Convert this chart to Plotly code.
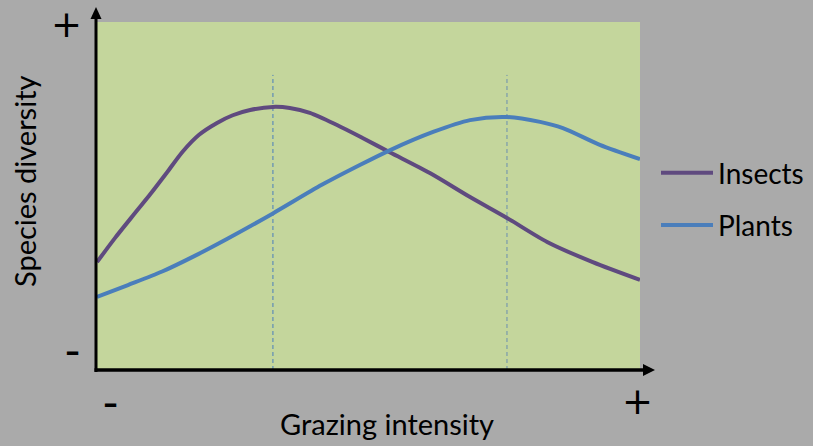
import plotly.graph_objects as go

# ---- data (arbitrary units, 0-100) ----
grazing_insects = [0, 3.3, 7.0, 9.8, 12.9, 15.8, 18.8, 22.1, 25.0, 28.2, 32.4, 35.5, 39.2,
                   44.2, 49.0, 54.0, 61.3, 68.7, 75.5, 82.9, 91.3, 100]
insects = [31.0, 37.9, 45.1, 50.5, 56.8, 62.8, 67.6, 71.0, 73.2, 74.7, 75.6, 75.3, 73.9,
           70.4, 66.6, 62.5, 56.6, 49.7, 43.7, 36.8, 31.0, 25.9]

grazing_plants = [0, 5.7, 12.0, 18.0, 24.1, 32.4, 41.4, 48.4, 54.0, 61.9, 68.7, 75.5,
                  81.6, 85.8, 92.6, 100]
plants = [21.0, 24.4, 28.3, 32.8, 37.8, 45.0, 53.2, 58.9, 63.2, 68.4, 71.8, 72.7,
          71.3, 69.5, 64.7, 60.6]

peak_x = [32.4, 75.5]
peak_line_top = 84.8
series_names = ["Insects", "Plants"]
axis_titles = ["Grazing intensity", "Species diversity"]
end_labels = ["-", "+"]

PURPLE = "#5f4a7f"
BLUE = "#4a7ebb"
DASH_COLORS = ["#4a7ebb", "#6a8fb0"]
FONT = "Lato"
PLUS_FONT = "DejaVu Sans"

W, H = 813, 446
L, R, T, B = 97, 173, 22, 76
PW, PH = W - L - R, H - T - B


def px2x(px):
    return (px - L) / PW


def py2y(py):
    return (H - B - py) / PH


fig = go.Figure()
fig.add_trace(go.Scatter(x=grazing_insects, y=insects, mode="lines", name=series_names[0],
                         legendgroup="a",
                         line=dict(color=PURPLE, width=4, shape="spline", smoothing=0.8)))
fig.add_trace(go.Scatter(x=grazing_plants, y=plants, mode="lines", name=series_names[1],
                         legendgroup="b",
                         line=dict(color=BLUE, width=4, shape="spline", smoothing=0.8)))

shapes = []
for i, px in enumerate(peak_x):
    shapes.append(dict(type="line", xref="x", yref="y", x0=px, x1=px, y0=0, y1=peak_line_top,
                       line=dict(color=DASH_COLORS[i], width=1, dash="4px,3px"),
                       layer="below"))

# axes with arrow heads (decoration)
shapes += [
    dict(type="line", xref="paper", yref="paper", x0=px2x(96), x1=px2x(96),
         y0=py2y(372), y1=py2y(18), line=dict(color="black", width=3)),
    dict(type="line", xref="paper", yref="paper", x0=px2x(94.5), x1=px2x(644),
         y0=py2y(370), y1=py2y(370), line=dict(color="black", width=3.5)),
    dict(type="path", xref="paper", yref="paper", xsizemode="pixel", ysizemode="pixel",
         xanchor=px2x(96), yanchor=py2y(7),
         path="M -5.5 -12 L 0 0 L 5.5 -12 Z", fillcolor="black", line=dict(width=0)),
    dict(type="path", xref="paper", yref="paper", xsizemode="pixel", ysizemode="pixel",
         xanchor=px2x(655), yanchor=py2y(370),
         path="M -12 6 L 0 0 L -12 -6 Z", fillcolor="black", line=dict(width=0)),
]


def label(text, px, py, size, angle=0, family=FONT):
    return dict(x=px2x(px), y=py2y(py), xref="paper", yref="paper", text=text,
                xanchor="center", yanchor="middle", textangle=angle,
                showarrow=False, font=dict(size=size, family=family, color="black"))


annotations = [
    label(axis_titles[0], 387, 423, 29),
    label(axis_titles[1], 24, 181, 29, -90),
    label(end_labels[0], 110, 401, 46),
    label(end_labels[1], 637, 402, 37, family=PLUS_FONT),
    label(end_labels[1], 66, 24, 37, family=PLUS_FONT),
    label(end_labels[0], 72, 349, 46),
]

fig.update_layout(
    width=W, height=H,
    margin=dict(l=L, r=R, t=T, b=B),
    paper_bgcolor="#aaaaaa",
    plot_bgcolor="#c4d69c",
    font=dict(family=FONT, size=28, color="black"),
    showlegend=True,
    legend=dict(x=656 / W, y=1 - 148 / H, xref="container", yref="container",
                xanchor="left", yanchor="top",
                bgcolor="rgba(0,0,0,0)",
                font=dict(size=28, family=FONT, color="black"), tracegroupgap=13,
                itemwidth=52),
    xaxis=dict(range=[0, 100], showgrid=False, zeroline=False, showticklabels=False,
               showline=False, ticks=""),
    yaxis=dict(range=[0, 100], showgrid=False, zeroline=False, showticklabels=False,
               showline=False, ticks=""),
    shapes=shapes,
    annotations=annotations,
)

fig.write_html("out.html", config={"displayModeBar": False},
               post_script="document.body.style.margin='0';")
